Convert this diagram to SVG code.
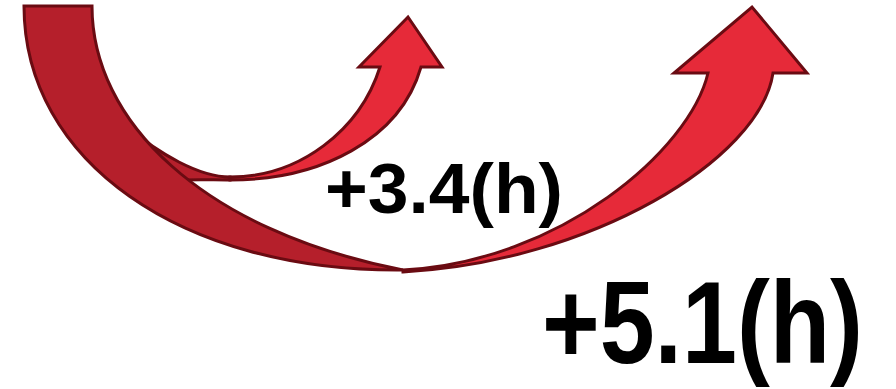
<svg xmlns="http://www.w3.org/2000/svg" width="896" height="389" viewBox="0 0 896 389">
<defs>
<style>
.edge{stroke:#6a0b12;stroke-width:3;stroke-linejoin:miter}
.back{fill:#b51f2b}
.front{fill:#e62a39}
.lbl{font-family:"Liberation Sans",Arial,sans-serif;font-weight:bold;fill:#000}
</style>
</defs>
<g id="small-arrow">
<path class="back edge" d="M 230 177 C 200 177, 160 155, 125 125 L 150 185 C 175 178, 200 180, 230 180 Z"/>
<path class="front edge" d="M 230 177 C 300 177, 360 130, 380 67 L 359 67 L 408 17 L 442 67 L 421 67 C 400 140, 320 180, 230 180 Z"/>
</g>
<g id="big-arrow">
<path class="back edge" d="M 24 6 L 92 6 C 92 120, 200 230, 403 270 C 180 272, 24 160, 24 6 Z"/>
<path class="front edge" d="M 403 270 C 560 262, 690 150, 708 73 L 674 73 L 752 7 L 807 73 L 773 73 C 760 160, 590 262, 403 272 Z"/>
</g>
<g id="labels">
<text class="lbl" x="325" y="213" font-size="70" textLength="238" lengthAdjust="spacingAndGlyphs">+3.4(h)</text>
<text class="lbl" x="542" y="363" font-size="116" textLength="321" lengthAdjust="spacingAndGlyphs">+5.1(h)</text>
</g>
</svg>
